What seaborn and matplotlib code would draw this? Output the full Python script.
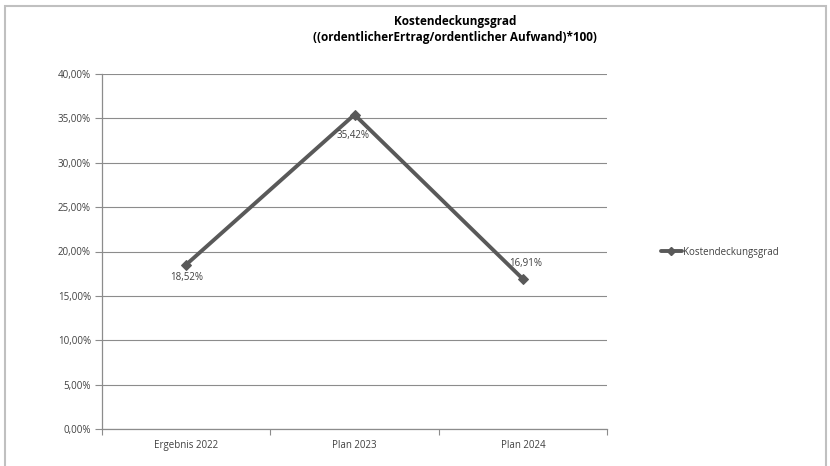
import matplotlib
matplotlib.use("Agg")
import matplotlib.pyplot as plt
import seaborn as sns
import pandas as pd
from matplotlib.patches import Rectangle
from matplotlib.ticker import FuncFormatter, FixedLocator
from matplotlib.lines import Line2D

categories = ["Ergebnis 2022", "Plan 2023", "Plan 2024"]
values = [18.52, 35.42, 16.91]
series_name = "Kostendeckungsgrad"
title_lines = ["Kostendeckungsgrad", "((ordentlicherErtrag/ordentlicher Aufwand)*100)"]

sns.set_theme(style="white")
plt.rcParams['font.family'] = ['Open Sans', 'DejaVu Sans']

df = pd.DataFrame({"cat": categories, "val": values})

fig = plt.figure(figsize=(8.30, 4.66), dpi=100)
ax = fig.add_axes([102/830, 37/466, 505/830, 355/466])

line_color = "#595959"
sns.lineplot(data=df, x="cat", y="val", ax=ax, color=line_color, linewidth=2.8,
             marker="D", markersize=5, markeredgecolor=line_color, sort=False)

ax.set_xlim(-0.5, 2.5)
ax.set_ylim(0, 40)
ax.set_yticks([0, 5, 10, 15, 20, 25, 30, 35, 40])
ax.yaxis.set_major_formatter(FuncFormatter(lambda v, p: f"{v:.2f}%".replace(".", ",")))
ax.set_xlabel("")
ax.set_ylabel("")

grid_c = "#8c8c8c"
ax.grid(axis="y", color=grid_c, linewidth=0.8)
ax.grid(axis="x", visible=False)
for s in ["top", "right"]:
    ax.spines[s].set_visible(False)
for s in ["left", "bottom"]:
    ax.spines[s].set_color(grid_c)
    ax.spines[s].set_linewidth(0.9)

ax.tick_params(axis="y", which="major", length=5, color=grid_c, width=0.8, labelsize=7, labelcolor="#404040", pad=3, left=True)
ax.set_xticks(range(len(categories)))
ax.set_xticklabels(categories)
ax.tick_params(axis="x", which="major", length=0, labelsize=7, labelcolor="#404040", pad=8)
ax.xaxis.set_minor_locator(FixedLocator([-0.5, 0.5, 1.5, 2.5]))
ax.tick_params(axis="x", which="minor", length=4, color=grid_c, width=0.8, bottom=True)

# data labels (offsets in points)
offsets = [(0, -9.4), (-1, -15), (2, -10.8 * -1)]
for i, (v, (dx, dy)) in enumerate(zip(values, offsets)):
    ax.annotate(f"{v:.2f}%".replace(".", ","), (i, v), xytext=(dx, dy),
                textcoords="offset points", ha="center", va="center", fontsize=7, color="#404040")

fig.text(455/830, 1 - 21/466, title_lines[0], ha="center", va="center", fontsize=8.5, fontweight="bold", color="#000000")
fig.text(455/830, 1 - 38/466, title_lines[1], ha="center", va="center", fontsize=8.5, fontweight="bold", color="#000000")

handle = Line2D([], [], color=line_color, linewidth=2.8, marker="D", markersize=4)
fig.legend([handle], [series_name], loc="center left", bbox_to_anchor=(652/830, 1 - 252/466),
           frameon=False, fontsize=7, handlelength=2.2, handletextpad=0.1, labelcolor="#404040")

fig.patches.append(Rectangle((5/830, -0.05), 821/830, 1.05 - 6/466, transform=fig.transFigure,
                             fill=False, edgecolor="#c0c0c0", linewidth=1.5))

fig.savefig("out.png", dpi=100)
